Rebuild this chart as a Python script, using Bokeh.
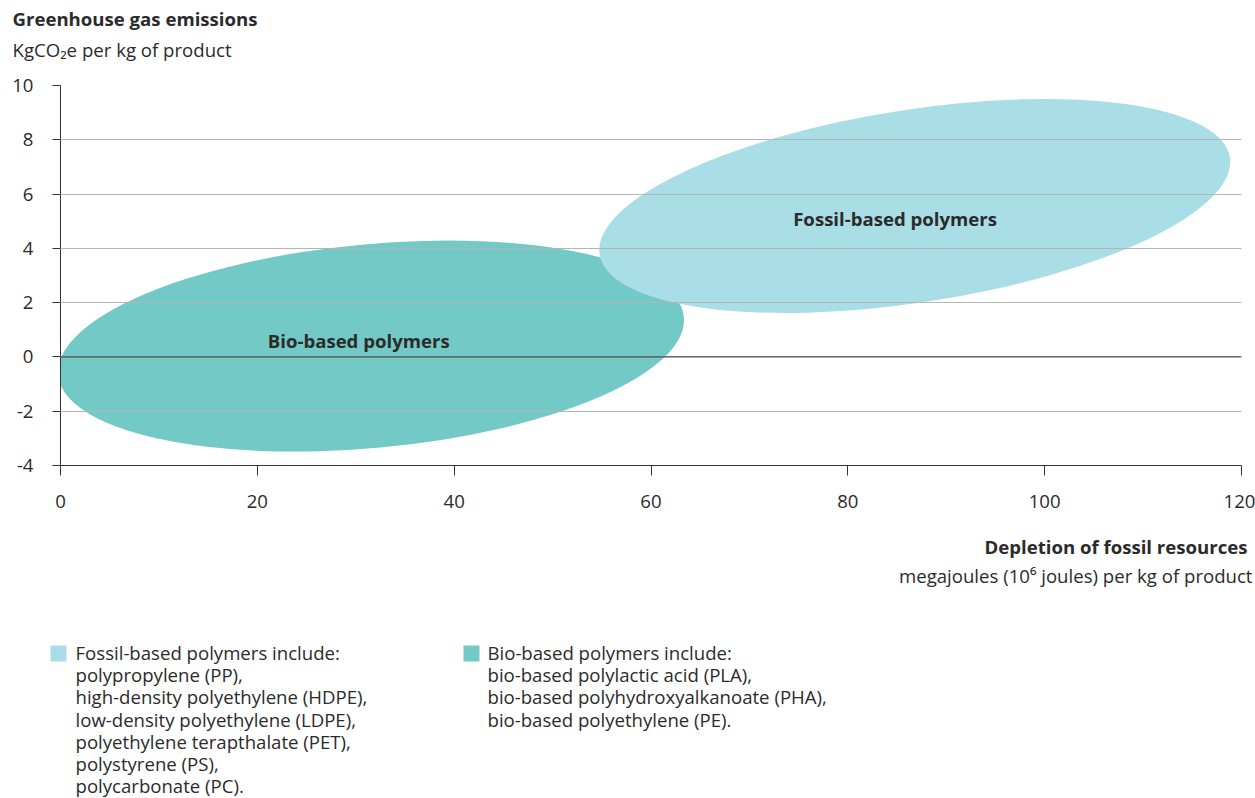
from bokeh.plotting import figure
from bokeh.models import Range1d, Label, Span, FixedTicker, ColumnDataSource
from bokeh.layouts import column
from bokeh.embed import file_html
from bokeh.resources import INLINE
import math

# ---- data ----
groups = ["Bio-based polymers", "Fossil-based polymers"]
center_x = [31.55, 86.8]        # MJ per kg
center_y = [0.40, 5.56]         # kgCO2e per kg
ell_width = [63.85, 64.8]       # x-units
ell_height = [7.51, 7.11]       # y-units
ell_angle_deg = [5.3, 8.75]
colors = ["#73C9C5", "#A9DEE7"]
label_x = [30.3, 84.8]
label_y = [0.6, 5.1]

x_ticks = [0, 20, 40, 60, 80, 100, 120]
y_ticks = [-4, -2, 0, 2, 4, 6, 8, 10]

legend_fossil = ["Fossil-based polymers include:", "polypropylene (PP),",
                 "high-density polyethylene (HDPE),", "low-density polyethylene (LDPE),",
                 "polyethylene terapthalate (PET),", "polystyrene (PS),", "polycarbonate (PC)."]
legend_bio = ["Bio-based polymers include:", "bio-based polylactic acid (PLA),",
              "bio-based polyhydroxyalkanoate (PHA),", "bio-based polyethylene (PE)."]

FONT = "Open Sans"
FS = "18.6px"
TXT = "#2b2b2b"
W = 1255
HEAD_H = 65
MAIN_BOTTOM = 525
TOTAL_H = 798


def text_panel(top, bottom):
    """A frameless figure whose data coordinates equal page pixels."""
    f = figure(width=W, height=bottom - top, output_backend="svg", toolbar_location=None,
               x_range=Range1d(0, W), y_range=Range1d(bottom, top),
               x_axis_type=None, y_axis_type=None, frame_align=False,
               min_border_left=0, min_border_right=0, min_border_top=0, min_border_bottom=0)
    f.outline_line_color = None
    f.background_fill_color = "white"
    f.border_fill_color = "white"
    f.grid.visible = False
    return f


def lab(f, x, y, t, bold=False, align="left", size=FS):
    f.add_layout(Label(x=x, y=y, text=t, text_align=align, text_baseline="middle",
                       text_font=FONT, text_font_size=size,
                       text_font_style="bold" if bold else "normal", text_color=TXT))


# ---- header ----
head = text_panel(0, HEAD_H)
lab(head, 12, 18, "Greenhouse gas emissions", bold=True)
lab(head, 12, 49, "KgCO\u2082e per kg of product")

# ---- main chart ----
p = figure(frame_width=1181, frame_height=380, output_backend="svg", toolbar_location=None,
           x_range=Range1d(0, 120), y_range=Range1d(-4, 10), frame_align=False,
           min_border_left=60, min_border_right=14, min_border_top=85 - HEAD_H,
           min_border_bottom=MAIN_BOTTOM - 465)
p.outline_line_color = None
p.background_fill_color = "white"
p.border_fill_color = "white"

src = ColumnDataSource(dict(x=center_x, y=center_y, w=ell_width, h=ell_height,
                            a=[math.radians(a) for a in ell_angle_deg], c=colors))
p.ellipse(x="x", y="y", width="w", height="h", angle="a", fill_color="c",
          line_color=None, source=src)

for ax in (p.xaxis[0], p.yaxis[0]):
    ax.axis_line_color = "#333333"
    ax.major_tick_line_color = "#333333"
    ax.minor_tick_line_color = None
    ax.major_tick_in = 0
    ax.major_label_text_font = FONT
    ax.major_label_text_font_size = FS
    ax.major_label_text_color = TXT
p.xaxis.ticker = FixedTicker(ticks=x_ticks)
p.yaxis.ticker = FixedTicker(ticks=y_ticks)
p.yaxis.major_label_overrides = {t: str(t) for t in y_ticks}
p.xaxis.major_tick_out = 10
p.yaxis.major_tick_out = 8
p.xaxis.major_label_standoff = 19
p.yaxis.major_label_standoff = 19

p.xgrid.visible = False
p.ygrid.ticker = FixedTicker(ticks=y_ticks)
p.ygrid.grid_line_color = "#B5B5B5"
p.ygrid.level = "annotation"

p.add_layout(Span(location=0, dimension="width", line_color="#333333", line_width=1,
                  level="annotation"))

for t, lx, ly in zip(groups, label_x, label_y):
    p.add_layout(Label(x=lx, y=ly, text=t, text_align="center", text_baseline="middle",
                       text_font=FONT, text_font_size=FS, text_font_style="bold",
                       text_color=TXT))

# ---- footer: axis title and legend ----
foot = text_panel(MAIN_BOTTOM, TOTAL_H)
lab(foot, 1247, 546, "Depletion of fossil resources", bold=True, align="right")
lab(foot, 1252, 575, "megajoules (10\u2076 joules) per kg of product", align="right")

for i, t in enumerate(legend_fossil):
    lab(foot, 75, 652 + i * 22.2, t)
for i, t in enumerate(legend_bio):
    lab(foot, 487, 652 + i * 22.2, t)
foot.quad(left=[50, 463], right=[66, 479], top=[645, 645], bottom=[661, 661],
          fill_color=[colors[1], colors[0]], line_color=None)

layout = column(head, p, foot, spacing=0)
open("out.html", "w").write(file_html(layout, INLINE))
